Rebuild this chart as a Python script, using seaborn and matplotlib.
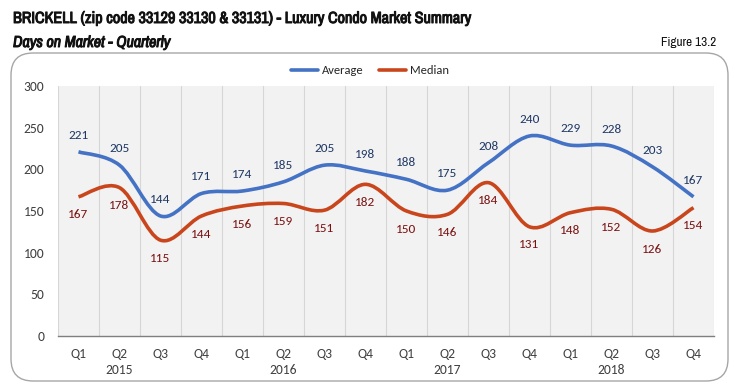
import matplotlib
matplotlib.use("Agg")
import matplotlib.pyplot as plt
import matplotlib.patheffects as pe
import seaborn as sns
import pandas as pd
import numpy as np
from matplotlib.path import Path
from matplotlib.patches import PathPatch, FancyBboxPatch
from matplotlib.lines import Line2D
from matplotlib import font_manager as fm

quarters = ["Q1", "Q2", "Q3", "Q4"] * 4
years = ["2015", "2016", "2017", "2018"]
average = [221, 205, 144, 171, 174, 185, 205, 198, 188, 175, 208, 240, 229, 228, 203, 167]
median = [167, 178, 115, 144, 156, 159, 151, 182, 150, 146, 184, 131, 148, 152, 126, 154]

avg_color = "#4472C4"
med_color = "#C9461C"
avg_lbl = "#1F3864"
med_lbl = "#7A1010"

installed = set(f.name for f in fm.fontManager.ttflist)

def pick(cands):
    lst = [c for c in cands if c in installed]
    return lst + ['DejaVu Sans']

body_font = pick(['Carlito', 'Calibri', 'Lato'])
narrow = pick(['Liberation Sans Narrow', 'Arial Narrow', 'Archivo Narrow', 'Liberation Sans'])

sns.set_theme(style="white")
plt.rcParams['font.family'] = body_font

n = len(average)
df = pd.DataFrame({
    "idx": list(range(n)) * 2,
    "value": average + median,
    "series": ["Average"] * n + ["Median"] * n,
})

fig = plt.figure(figsize=(7.35, 3.9), dpi=100)
fig.patch.set_facecolor("white")

# outer rounded frame
frame = FancyBboxPatch((11 / 735, 1 - 381 / 390), 717 / 735, 328 / 390,
                       boxstyle="round,pad=0,rounding_size=0.03",
                       transform=fig.transFigure, facecolor="white",
                       edgecolor="#A6A6A6", linewidth=1.0, zorder=-5,
                       mutation_aspect=735 / 390)
fig.patches.append(frame)

ax = fig.add_axes([58 / 735, 1 - 336 / 390, (714 - 58) / 735, (336 - 86) / 390])
ax.set_zorder(2)
ax.set_facecolor("#F2F2F2")

sns.lineplot(data=df, x="idx", y="value", hue="series",
             palette={"Average": avg_color, "Median": med_color},
             ax=ax, linewidth=2.4, legend=False)

# replace straight polylines with Excel-like smoothed Bezier curves
def smooth_path(xs, ys):
    pts = np.column_stack([xs, ys]).astype(float)
    verts = [pts[0]]
    codes = [Path.MOVETO]
    m = len(pts)
    for i in range(m - 1):
        p0 = pts[i - 1] if i > 0 else pts[i]
        p1 = pts[i]
        p2 = pts[i + 1]
        p3 = pts[i + 2] if i + 2 < m else pts[i + 1]
        c1 = p1 + (p2 - p0) / 6.0
        c2 = p2 - (p3 - p1) / 6.0
        verts += [c1, c2, p2]
        codes += [Path.CURVE4] * 3
    return Path(verts, codes)

for line in list(ax.lines):
    xd, yd = line.get_xdata(), line.get_ydata()
    if len(xd) < 2:
        continue
    patch = PathPatch(smooth_path(xd, yd), facecolor="none",
                      edgecolor=line.get_color(), linewidth=2.6,
                      capstyle="butt", joinstyle="round", zorder=3)
    ax.add_patch(patch)
    line.set_visible(False)

for i, (a, m) in enumerate(zip(average, median)):
    ax.annotate(str(a), (i, a), xytext=(0, 12), textcoords="offset points",
                ha="center", va="center", fontsize=9.5, color=avg_lbl)
    ax.annotate(str(m), (i, m), xytext=(0, -13), textcoords="offset points",
                ha="center", va="center", fontsize=9.5, color=med_lbl)

ax.set_xlim(-0.5, n - 0.5)
ax.set_ylim(0, 300)
ax.set_yticks([0, 50, 100, 150, 200, 250, 300])
ax.set_xticks(range(n))
ax.set_xticklabels(quarters)
ax.set_xticks(np.arange(-0.5, n, 1.0), minor=True)
ax.grid(False)
ax.grid(which="minor", axis="x", color="#D6D6D6", linewidth=0.8)
ax.tick_params(axis="x", which="major", length=0, pad=9, labelsize=9.8, colors="#404040")
ax.tick_params(axis="x", which="minor", length=5, direction="out", color="#7F7F7F", width=0.9)
ax.tick_params(axis="y", length=0, pad=10, labelsize=9.8, colors="#404040")
ax.set_xlabel("")
ax.set_ylabel("")
for s in ["top", "right", "left"]:
    ax.spines[s].set_visible(False)
ax.spines["bottom"].set_color("#7F7F7F")
ax.spines["bottom"].set_linewidth(1.0)

for k, yr in enumerate(years):
    ax.text(4 * k + 1, -0.135, yr, transform=ax.get_xaxis_transform(),
            ha="center", va="center", fontsize=9.8, color="#404040")

handles = [Line2D([], [], color=avg_color, linewidth=2.6),
           Line2D([], [], color=med_color, linewidth=2.6)]
fig.legend(handles, ["Average", "Median"], loc="center",
           bbox_to_anchor=(370 / 735, 1 - 71 / 390), ncol=2, frameon=False,
           fontsize=9, handlelength=2.2, handletextpad=0.3, columnspacing=1.2)

# narrow face with a thin stroke to emulate the narrow bold title face
bolden = [pe.withStroke(linewidth=0.7, foreground="#111111")]
fig.text(13 / 735, 1 - 18.5 / 390, "BRICKELL (zip code 33129 33130 & 33131) - Luxury Condo Market Summary",
         ha="left", va="center", fontsize=11.6, family=narrow, color="#111111",
         path_effects=bolden)
fig.text(13 / 735, 1 - 42.5 / 390, "Days on Market - Quarterly",
         ha="left", va="center", fontsize=11.5, fontstyle="italic",
         family=narrow, color="#111111", path_effects=bolden)
fig.text(716 / 735, 1 - 43 / 390, "Figure 13.2",
         ha="right", va="center", fontsize=9.5, family=narrow, color="#111111")

fig.savefig("out.png", dpi=100, facecolor="white")
